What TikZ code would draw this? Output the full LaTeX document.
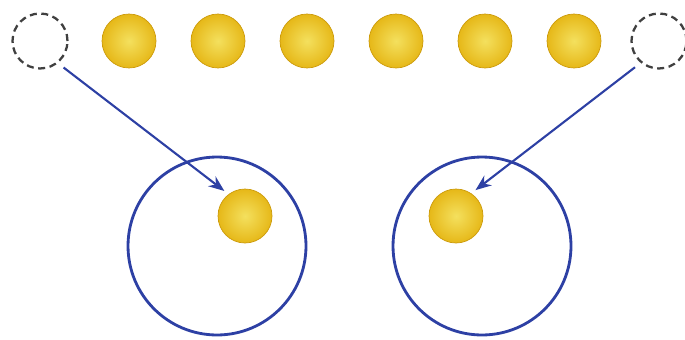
\documentclass[tikz,border=0pt]{standalone}
\usetikzlibrary{arrows.meta}
\definecolor{goldin}{HTML}{F4E05E}
\definecolor{goldout}{HTML}{E6B818}
\definecolor{goldrim}{HTML}{CC9A0A}
\definecolor{navy}{HTML}{2D40A4}
\begin{document}
\begin{tikzpicture}[x=0.02cm,y=0.02cm,
    ball/.style={circle,minimum size=1.08cm,inner sep=0pt,draw=goldrim,line width=0.4pt,
      inner color=goldin,outer color=goldout},
    hole/.style={circle,minimum size=1.1cm,inner sep=0pt,draw=black!75,line width=1.3pt,
      dash pattern=on 4pt off 2.6pt},
    cell/.style={circle,minimum size=3.56cm,inner sep=0pt,draw=navy,line width=1.6pt},
    jump/.style={navy,line width=1.2pt,-{Stealth[length=9pt,width=7pt]}}]
    \useasboundingbox (0,0) rectangle (685,339);
    % row of atoms with two vacancies
    \node[hole] (vacL) at (40,298) {};
    \foreach \i/\x in {1/129,2/218,3/307,4/396,5/485,6/574}
        \node[ball] (atom\i) at (\x,298) {};
    \node[hole] (vacR) at (659,298) {};
    % two cells
    \node[cell] (cellL) at (217,93) {};
    \node[cell] (cellR) at (482,93) {};
    \node[ball] (inL) at (245,123) {};
    \node[ball] (inR) at (456,123) {};
    \draw[jump,shorten <=4pt,shorten >=3pt] (vacL.-51) -- (inL.127);
    \draw[jump,shorten <=4pt,shorten >=3pt] (vacR.230) -- (inR.56);
\end{tikzpicture}
\end{document}
